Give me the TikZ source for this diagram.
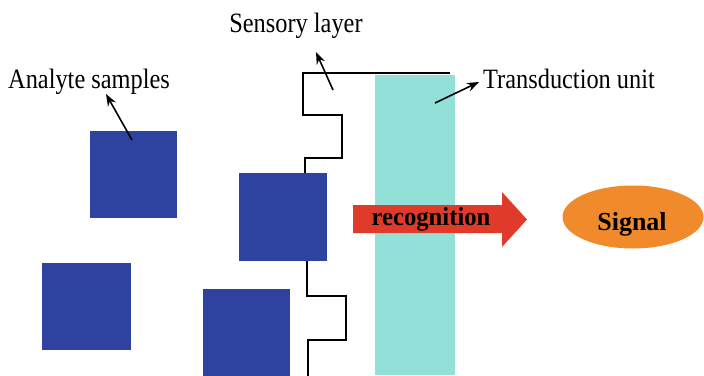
\documentclass[tikz,border=0pt]{standalone}
\usepackage{graphicx}
\usepackage{fontspec}
\setmainfont{Liberation Serif}
\usetikzlibrary{arrows.meta,shapes.geometric}
\definecolor{sampleblue}{HTML}{2E43A0}
\definecolor{transteal}{HTML}{92E0D8}
\definecolor{recogred}{HTML}{E03A2A}
\definecolor{signalorange}{HTML}{F08A2A}
\newcommand{\tallfont}[1]{\scalebox{0.87}[1]{\fontsize{28}{32}\selectfont #1}}
\tikzset{
  sample/.style={fill=sampleblue, draw=none},
  lbl/.style={inner sep=0pt},
  pointer/.style={-{Stealth[length=12pt,width=9pt]}, line width=1.6pt, black},
  layerline/.style={line width=1.6pt, black, line join=miter}
}
\begin{document}
\begin{tikzpicture}[x=1pt,y=-1pt]
\useasboundingbox (0,0) rectangle (704,375);
% transduction unit
\fill[transteal] (375,75) rectangle (455,375);
% sensory layer outline
\draw[layerline] (450,73) -- (303,73) -- (303,115) -- (342,115) -- (342,158) -- (305,158) -- (305,175);
\draw[layerline] (307,259) -- (307,296) -- (346,296) -- (346,340) -- (308,340) -- (308,376);
% analyte samples
\fill[sample] (90,131) rectangle (177,218);
\fill[sample] (42,263) rectangle (131,350);
\fill[sample] (239,173) rectangle (327,261);
\fill[sample] (203,289) rectangle (290,376);
% recognition arrow
\fill[recogred] (353,205) -- (502,205) -- (502,192) -- (527,219.5) -- (502,247) -- (502,233) -- (353,233) -- cycle;
\node[anchor=base, inner sep=0pt] (rec) at (431,225) {\scalebox{0.95}[1]{\bfseries\fontsize{26}{30}\selectfont recognition}};
% signal
\node[ellipse, fill=signalorange, minimum width=141pt, minimum height=63pt, inner sep=0pt] (sig) at (633,217) {};
\node[anchor=base, inner sep=0pt] (sigtext) at (632,230) {\bfseries\fontsize{26}{30}\selectfont Signal};
% labels
\node[lbl, anchor=base west] (analyte) at (8,88) {\tallfont{Analyte samples}};
\node[lbl, anchor=base] (sensory) at (296,32) {\tallfont{Sensory layer}};
\node[lbl, anchor=base west] (trans) at (483,88) {\tallfont{Transduction unit}};
% pointers
\coordinate (a0) at (132,140);
\coordinate (s0) at (333,90);
\coordinate (t0) at (435,103);
\draw[pointer] (a0) -- (106,94);
\draw[pointer] (s0) -- (316,52);
\draw[pointer] (t0) -- (479,82);
\end{tikzpicture}
\end{document}
